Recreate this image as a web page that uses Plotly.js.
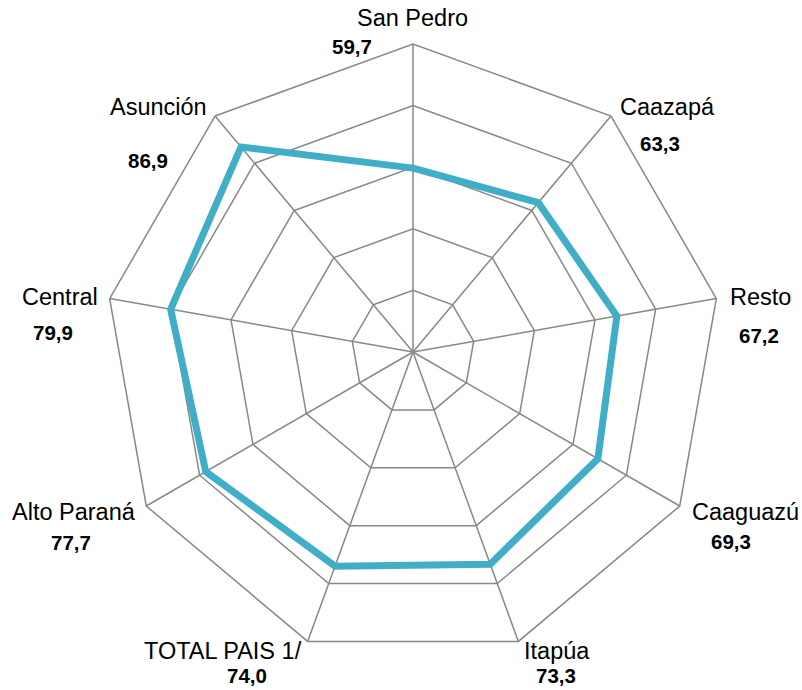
<!DOCTYPE html>
<html>
<head>
<meta charset="utf-8">
<script src="https://cdn.plot.ly/plotly-3.0.1.min.js"></script>
<style>html,body{margin:0;padding:0;background:#fff;}#chart{width:802px;height:690px;}</style>
</head>
<body>
<div id="chart"></div>
<script>
const categories = ["San Pedro", "Caazapá", "Resto", "Caaguazú", "Itapúa", "TOTAL PAIS 1/", "Alto Paraná", "Central", "Asunción"];
const values = [59.7, 63.3, 67.2, 69.3, 73.3, 74.0, 77.7, 79.9, 86.9];
const radialTicks = [0, 20, 40, 60, 80, 100];
const rMax = 100;

// label layout: pixel offsets of each label centre from the outer end of its axis
const nameLabelShift = [[-0.5, -26], [56.5, -9.5], [44, -1.5], [66, 5.5], [38.5, 9.5], [-84.5, 9.5], [-72, 6], [-50, -2], [-56.5, -9]];
const valueLabelShift = [[-61.5, 2.5], [49, 27], [43, 37], [51, 35], [37.5, 34.5], [-60.5, 34.5], [-75, 36.5], [-56.5, 34], [-67, 44.5]];

const fmt = v => v.toFixed(1).replace('.', ',');
const FONT = 'Liberation Sans, Arial, sans-serif';

const trace = {
  type: 'scatterpolar',
  mode: 'lines',
  r: values.concat([values[0]]),
  theta: categories.concat([categories[0]]),
  line: {color: '#41AEC8', width: 7},
  hoverinfo: 'skip'
};

// labels anchored at the outer end of each category axis (clockwise from top)
const n = categories.length;
function axisEnd(i) {
  const ang = (90 - 360 * i / n) * Math.PI / 180;
  return {x: 0.5 + 0.5 * Math.cos(ang), y: 0.5 + 0.5 * Math.sin(ang)};
}
const annotations = [];
categories.forEach((c, i) => {
  const p = axisEnd(i);
  annotations.push({
    xref: 'paper', yref: 'paper', x: p.x, y: p.y,
    xshift: nameLabelShift[i][0], yshift: -nameLabelShift[i][1],
    xanchor: 'center', yanchor: 'middle', showarrow: false,
    text: c,
    font: {size: 23.5, color: '#000000', family: FONT}
  });
  annotations.push({
    xref: 'paper', yref: 'paper', x: p.x, y: p.y,
    xshift: valueLabelShift[i][0], yshift: -valueLabelShift[i][1],
    xanchor: 'center', yanchor: 'middle', showarrow: false,
    text: '<b>' + fmt(values[i]) + '</b>',
    font: {size: 20.5, color: '#000000', family: FONT}
  });
});

const layout = {
  width: 802, height: 690,
  margin: {l: 105, r: 81, t: 44, b: 30},
  paper_bgcolor: '#ffffff',
  plot_bgcolor: '#ffffff',
  showlegend: false,
  font: {family: FONT, color: '#000000', size: 17},
  annotations: annotations,
  polar: {
    bgcolor: '#ffffff',
    gridshape: 'linear',
    domain: {x: [0, 1], y: [0, 1]},
    radialaxis: {
      range: [0, rMax],
      tickvals: radialTicks,
      showticklabels: false,
      ticks: '',
      showline: false,
      gridcolor: '#888888',
      gridwidth: 1.5
    },
    angularaxis: {
      type: 'category',
      categoryarray: categories,
      direction: 'clockwise',
      rotation: 90,
      tickvals: categories,
      showticklabels: false,
      ticks: '',
      showline: true,
      linecolor: '#888888',
      linewidth: 1.5,
      gridcolor: '#888888',
      gridwidth: 1.5
    }
  }
};

Plotly.newPlot('chart', [trace], layout, {displayModeBar: false, staticPlot: true});
</script>
</body>
</html>
